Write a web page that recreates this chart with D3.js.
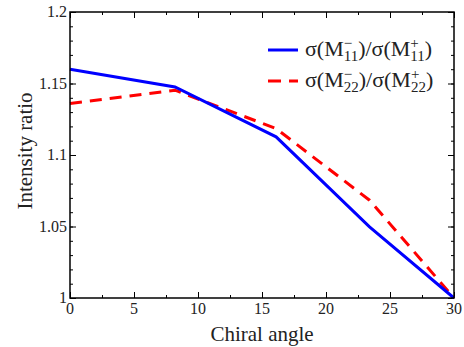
<!DOCTYPE html>
<html>
<head>
<meta charset="utf-8">
<script src="https://cdn.jsdelivr.net/npm/d3@7"></script>
<style>
  body { margin: 0; background: #fff; }
</style>
</head>
<body>
<div id="chart"></div>
<script>
'use strict';

const chiralAngles = [0, 8.2, 16.1, 23.4, 30];
const ratioM11 = [1.160, 1.1476, 1.1127, 1.0497, 1.0];
const ratioM22 = [1.136, 1.1453, 1.1185, 1.0684, 1.0];
const xTicks = [0, 5, 10, 15, 20, 25, 30];
const yTicks = [1, 1.05, 1.1, 1.15, 1.2];
const yTickLabels = ['1', '1.05', '1.1', '1.15', '1.2'];

const width = 464, height = 347;
const margin = { top: 12, right: 10, bottom: 49, left: 70 };
const plotW = width - margin.left - margin.right;
const plotH = height - margin.top - margin.bottom;
const serif = "'Liberation Serif', 'Times New Roman', 'DejaVu Serif', serif";

const svg = d3.select('#chart').append('svg')
  .attr('width', width)
  .attr('height', height)
  .attr('font-family', serif);

const xScale = d3.scaleLinear().domain([0, 30]).range([0, plotW]);
const yScale = d3.scaleLinear().domain([1, 1.2]).range([plotH, 0]);

const g = svg.append('g')
  .attr('transform', 'translate(' + margin.left + ',' + margin.top + ')');

// minor ticks on all four sides, pointing inward
const xMinor = d3.range(0, 30.01, 2.5);
const yMinor = d3.range(1, 1.2001, 0.01);

function tickAxis(axis, tickVals, size, transform) {
  g.append('g')
    .attr('transform', transform)
    .call(axis.tickValues(tickVals).tickSize(size).tickFormat(''))
    .call(sel => sel.select('.domain').remove())
    .call(sel => sel.selectAll('line').attr('stroke', '#000').attr('stroke-width', 1));
}
tickAxis(d3.axisTop(xScale), xMinor, 3, 'translate(0,' + plotH + ')');
tickAxis(d3.axisBottom(xScale), xMinor, 3, 'translate(0,0)');
tickAxis(d3.axisRight(yScale), yMinor, 3, 'translate(0,0)');
tickAxis(d3.axisLeft(yScale), yMinor, 3, 'translate(' + plotW + ',0)');
tickAxis(d3.axisTop(xScale), xTicks, 6, 'translate(0,' + plotH + ')');
tickAxis(d3.axisBottom(xScale), xTicks, 6, 'translate(0,0)');
tickAxis(d3.axisRight(yScale), yTicks, 6, 'translate(0,0)');
tickAxis(d3.axisLeft(yScale), yTicks, 6, 'translate(' + plotW + ',0)');

// tick labels
g.selectAll('.xlab')
  .data(xTicks)
  .enter().append('text')
  .attr('x', d => xScale(d))
  .attr('y', plotH + 16)
  .attr('text-anchor', 'middle')
  .attr('fill', '#222')
  .style('font-family', serif)
  .style('font-size', '16px')
  .text(d => d);

g.selectAll('.ylab')
  .data(yTicks)
  .enter().append('text')
  .attr('x', -3)
  .attr('y', d => yScale(d) + 5)
  .attr('text-anchor', 'end')
  .attr('fill', '#222')
  .style('font-family', serif)
  .style('font-size', '16px')
  .text((d, i) => yTickLabels[i]);

// lines
const line = d3.line()
  .x(d => xScale(d[0]))
  .y(d => yScale(d[1]));

g.append('path')
  .datum(chiralAngles.map((a, i) => [a, ratioM22[i]]))
  .attr('d', line)
  .attr('fill', 'none')
  .attr('stroke', '#ff0000')
  .attr('stroke-width', 3)
  .attr('stroke-dasharray', '12,8');

g.append('path')
  .datum(chiralAngles.map((a, i) => [a, ratioM11[i]]))
  .attr('d', line)
  .attr('fill', 'none')
  .attr('stroke', '#0000ff')
  .attr('stroke-width', 3);

// frame
g.append('rect')
  .attr('width', plotW)
  .attr('height', plotH)
  .attr('fill', 'none')
  .attr('stroke', '#000')
  .attr('stroke-width', 1.5);

// axis titles
svg.append('text')
  .attr('x', margin.left + plotW / 2)
  .attr('y', 341)
  .attr('text-anchor', 'middle')
  .attr('fill', '#222')
  .style('font-family', serif)
  .style('font-size', '21px')
  .text('Chiral angle');

svg.append('text')
  .attr('transform', 'translate(32,151) rotate(-90)')
  .attr('text-anchor', 'middle')
  .attr('fill', '#222')
  .style('font-family', serif)
  .style('font-size', '21px')
  .text('Intensity ratio');

// legend
const legendItems = [
  { sub: '11', color: '#0000ff', dash: null },
  { sub: '22', color: '#ff0000', dash: '13,8' }
];
const legend = svg.append('g').attr('transform', 'translate(268,50)');
legendItems.forEach((item, i) => {
  const row = legend.append('g').attr('transform', 'translate(0,' + (i * 31) + ')');
  row.append('line')
    .attr('x1', 0).attr('x2', 30)
    .attr('y1', 0).attr('y2', 0)
    .attr('stroke', item.color)
    .attr('stroke-width', 3)
    .attr('stroke-dasharray', item.dash);
  const t = row.append('text')
    .attr('x', 37)
    .attr('y', 6)
    .attr('fill', '#222')
    .style('font-family', serif)
    .style('font-size', '22px');
  t.append('tspan').text('σ(M');
  t.append('tspan').attr('dy', -8).style('font-size', '15px').text('−');
  t.append('tspan').attr('dx', -8.5).attr('dy', 13).style('font-size', '15px').text(item.sub);
  t.append('tspan').attr('dy', -5).text(')/σ(M');
  t.append('tspan').attr('dy', -8).style('font-size', '15px').text('+');
  t.append('tspan').attr('dx', -8.5).attr('dy', 13).style('font-size', '15px').text(item.sub);
  t.append('tspan').attr('dy', -5).text(')');
});
</script>
</body>
</html>
